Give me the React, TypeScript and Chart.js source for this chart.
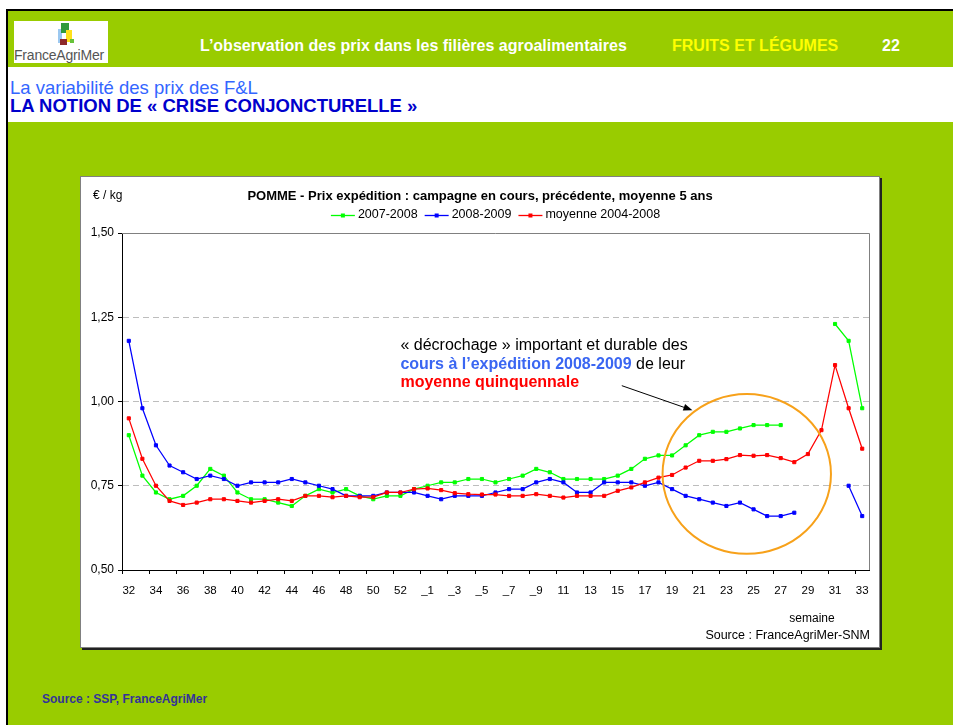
import React, { useEffect, useRef } from 'react';
import { Chart, registerables } from 'chart.js';

Chart.register(...registerables);

const FONT = '"Liberation Sans", Arial, sans-serif';

const weekLabels = [
  '32', '33', '34', '35', '36', '37', '38', '39', '40', '41', '42', '43', '44', '45', '46', '47', '48', '49', '50', '51', '52', '53',
  '_1', '_2', '_3', '_4', '_5', '_6', '_7', '_8', '_9',
  '10', '11', '12', '13', '14', '15', '16', '17', '18', '19', '20', '21', '22', '23', '24', '25', '26', '27', '28', '29', '30', '31', '32', '33',
];

const series2007 = [
  0.90, 0.78, 0.73, 0.71, 0.72, 0.75, 0.80, 0.78, 0.73, 0.71,
  0.71, 0.70, 0.69, 0.72, 0.74, 0.73, 0.74, 0.72, 0.71, 0.72,
  0.72, 0.74, 0.75, 0.76, 0.76, 0.77, 0.77, 0.76, 0.77, 0.78,
  0.80, 0.79, 0.77, 0.77, 0.77, 0.77, 0.78, 0.80, 0.83, 0.84,
  0.84, 0.87, 0.90, 0.91, 0.91, 0.92, 0.93, 0.93, 0.93, null,
  null, null, 1.23, 1.18, 0.98,
];

const series2008 = [
  1.18, 0.98, 0.87, 0.81, 0.79, 0.77, 0.78, 0.77, 0.75, 0.76,
  0.76, 0.76, 0.77, 0.76, 0.75, 0.74, 0.72, 0.72, 0.72, 0.73,
  0.73, 0.73, 0.72, 0.71, 0.72, 0.72, 0.72, 0.73, 0.74, 0.74,
  0.76, 0.77, 0.76, 0.73, 0.73, 0.76, 0.76, 0.76, 0.75, 0.76,
  0.74, 0.72, 0.71, 0.70, 0.69, 0.70, 0.68, 0.66, 0.66, 0.67,
  null, null, null, 0.75, 0.66,
];

const seriesMoyenne = [
  0.95, 0.83, 0.75, 0.705, 0.693, 0.70, 0.71, 0.71, 0.705, 0.70,
  0.705, 0.71, 0.705, 0.72, 0.72, 0.716, 0.72, 0.716, 0.716, 0.73,
  0.73, 0.74, 0.742, 0.737, 0.728, 0.725, 0.724, 0.724, 0.72, 0.72,
  0.725, 0.72, 0.715, 0.72, 0.72, 0.72, 0.735, 0.745, 0.76, 0.774,
  0.782, 0.804, 0.824, 0.824, 0.829, 0.841, 0.839, 0.841, 0.832, 0.82,
  0.844, 0.915, 1.108, 0.98, 0.86,
];

const seriesNames = ['2007-2008', '2008-2009', 'moyenne 2004-2008'];
const seriesColors = ['#00FF00', '#0000FF', '#FF0000'];

const yTicks = [0.5, 0.75, 1.0, 1.25, 1.5];

const chartTitle = 'POMME - Prix expédition : campagne en cours, précédente, moyenne 5 ans';

const overlayPlugin = {
  id: 'overlay',
  beforeDatasetsDraw(chart: any) {
    const { ctx, chartArea: a } = chart;
    ctx.save();
    ctx.strokeStyle = '#808080';
    ctx.lineWidth = 1;
    ctx.beginPath();
    ctx.moveTo(a.left, Math.round(a.top) + 0.5);
    ctx.lineTo(Math.round(a.right) + 0.5, Math.round(a.top) + 0.5);
    ctx.lineTo(Math.round(a.right) + 0.5, a.bottom);
    ctx.stroke();
    ctx.restore();
  },
  afterDatasetsDraw(chart: any) {
    const { ctx } = chart;
    const xs = chart.scales.x;
    const ys = chart.scales.y;
    // orange circle around the recent weeks
    const cx = xs.getPixelForValue(45.5);
    const cy = ys.getPixelForValue(0.785);
    const rx = xs.getPixelForValue(45.5 + 6.2) - cx;
    const ry = cy - ys.getPixelForValue(0.785 + 0.237);
    ctx.save();
    ctx.strokeStyle = '#F7A11A';
    ctx.lineWidth = 2;
    ctx.beginPath();
    ctx.ellipse(cx, cy, rx, ry, 0, 0, Math.PI * 2);
    ctx.stroke();
    // arrow
    const x1 = xs.getPixelForValue(36.3);
    const y1 = ys.getPixelForValue(1.047);
    const x2 = xs.getPixelForValue(41.5);
    const y2 = ys.getPixelForValue(0.974);
    const ang = Math.atan2(y2 - y1, x2 - x1);
    ctx.strokeStyle = '#000';
    ctx.fillStyle = '#000';
    ctx.lineWidth = 1;
    ctx.beginPath();
    ctx.moveTo(x1, y1);
    ctx.lineTo(x2 - 7 * Math.cos(ang), y2 - 7 * Math.sin(ang));
    ctx.stroke();
    ctx.beginPath();
    ctx.moveTo(x2, y2);
    ctx.lineTo(x2 - 9 * Math.cos(ang) + 3.5 * Math.sin(ang), y2 - 9 * Math.sin(ang) - 3.5 * Math.cos(ang));
    ctx.lineTo(x2 - 9 * Math.cos(ang) - 3.5 * Math.sin(ang), y2 - 9 * Math.sin(ang) + 3.5 * Math.cos(ang));
    ctx.closePath();
    ctx.fill();
    // annotation text
    const tx = xs.getPixelForValue(20);
    const ty = ys.getPixelForValue(1.165);
    const lh = 18.5;
    ctx.textBaseline = 'middle';
    ctx.textAlign = 'left';
    ctx.font = `16px ${FONT}`;
    ctx.fillStyle = '#000';
    ctx.fillText('« décrochage » important et durable des', tx, ty);
    ctx.font = `bold 16px ${FONT}`;
    ctx.fillStyle = '#3A66F2';
    const part = 'cours à l’expédition 2008-2009';
    ctx.fillText(part, tx, ty + lh);
    const w = ctx.measureText(part).width;
    ctx.font = `16px ${FONT}`;
    ctx.fillStyle = '#000';
    ctx.fillText(' de leur', tx + w, ty + lh);
    ctx.font = `bold 16px ${FONT}`;
    ctx.fillStyle = '#FF0000';
    ctx.fillText('moyenne quinquennale', tx, ty + 2 * lh);
    ctx.restore();
  },
  afterDraw(chart: any) {
    const { ctx, chartArea: a, width } = chart;
    ctx.save();
    ctx.textBaseline = 'middle';
    // unit
    ctx.fillStyle = '#000';
    ctx.font = `12px ${FONT}`;
    ctx.textAlign = 'left';
    ctx.fillText('€ / kg', 12, 19);
    // title
    ctx.font = `bold 13px ${FONT}`;
    ctx.textAlign = 'center';
    ctx.fillText(chartTitle, width / 2, 19);
    // legend
    ctx.font = `12.5px ${FONT}`;
    const symW = 24;
    const gapA = 3;
    const gapB = 7;
    const widths = seriesNames.map((n) => ctx.measureText(n).width);
    const total = widths.reduce((s, v) => s + v + symW + gapA, 0) + gapB * (seriesNames.length - 1);
    let lx = (a.left + a.right) / 2 - total / 2;
    const ly = 38;
    ctx.textAlign = 'left';
    seriesNames.forEach((n, i) => {
      ctx.strokeStyle = seriesColors[i];
      ctx.fillStyle = seriesColors[i];
      ctx.lineWidth = 1.3;
      ctx.beginPath();
      ctx.moveTo(lx, ly + 0.5);
      ctx.lineTo(lx + symW, ly + 0.5);
      ctx.stroke();
      ctx.fillRect(lx + symW / 2 - 2, ly - 1.5, 4, 4);
      ctx.fillStyle = '#000';
      ctx.fillText(n, lx + symW + gapA, ly);
      lx += symW + gapA + widths[i] + gapB;
    });
    // axis caption and source
    ctx.font = `12px ${FONT}`;
    ctx.textAlign = 'center';
    ctx.fillText('semaine', 731, 442);
    ctx.font = `12.5px ${FONT}`;
    ctx.textAlign = 'right';
    ctx.fillText('Source : FranceAgriMer-SNM', 789, 459);
    ctx.restore();
  },
};

function PriceChart() {
  const ref = useRef<HTMLCanvasElement | null>(null);
  useEffect(() => {
    if (!ref.current) return;
    const mk = (label: string, data: (number | null)[], color: string, order: number) => ({
      label,
      data,
      borderColor: color,
      backgroundColor: color,
      borderWidth: 1.25,
      pointStyle: 'rect',
      pointRadius: 2.2,
      pointBorderWidth: 1,
      pointBackgroundColor: color,
      pointBorderColor: color,
      tension: 0,
      spanGaps: false,
      order,
    });
    const chart = new Chart(ref.current, {
      type: 'line',
      data: {
        labels: weekLabels,
        datasets: [
          mk(seriesNames[0], series2007, seriesColors[0], 2),
          mk(seriesNames[1], series2008, seriesColors[1], 1),
          mk(seriesNames[2], seriesMoyenne, seriesColors[2], 0),
        ],
      },
      options: {
        animation: false,
        responsive: false,
        maintainAspectRatio: false,
        events: [],
        layout: { padding: { top: 56, right: 10, bottom: 0, left: 0 } },
        plugins: {
          legend: { display: false },
          title: { display: false },
          tooltip: { enabled: false },
        },
        scales: {
          x: {
            type: 'category',
            offset: true,
            grid: {
              drawOnChartArea: false,
              offset: true,
              tickLength: 4,
              color: '#000',
              tickColor: (c: any) => (c.index !== undefined && c.index % 2 === 0 ? '#000' : 'rgba(0,0,0,0)'),
            },
            border: { color: '#000', width: 1 },
            ticks: {
              autoSkip: false,
              maxRotation: 0,
              minRotation: 0,
              padding: 10,
              color: '#000',
              font: { family: FONT, size: 11.5 },
              callback: (_v: any, i: number) => (i % 2 === 0 ? weekLabels[i] : ''),
            },
            afterFit: (s: any) => {
              s.height = 77;
            },
          },
          y: {
            min: yTicks[0],
            max: yTicks[yTicks.length - 1],
            afterBuildTicks: (s: any) => {
              s.ticks = yTicks.map((v) => ({ value: v }));
            },
            ticks: {
              padding: 4,
              color: '#000',
              font: { family: FONT, size: 12 },
              callback: (v: any) => Number(v).toFixed(2).replace('.', ','),
            },
            grid: {
              color: (c: any) => (c.tick && (c.tick.value === 0.5 || c.tick.value === 1.5) ? 'rgba(0,0,0,0)' : '#BDBDBD'),
              tickColor: '#000',
              tickLength: 4,
              lineWidth: 1,
            },
            border: { color: '#000', width: 1, dash: [6, 4] },
            afterFit: (s: any) => {
              s.width = 41;
            },
          },
        },
      },
      plugins: [overlayPlugin],
    } as any);
    return () => chart.destroy();
  }, []);
  return <canvas ref={ref} width={798} height={470} style={{ display: 'block' }} />;
}

const abs = (o: React.CSSProperties): React.CSSProperties => ({ position: 'absolute', whiteSpace: 'nowrap', ...o });

export default function App() {
  return (
    <div style={{ position: 'relative', width: 953, height: 725, background: '#fff', overflow: 'hidden', fontFamily: FONT }}>
      <style>{'body{margin:0}'}</style>
      {/* frame */}
      <div style={abs({ left: 6, top: 9, width: 947, height: 2, background: '#000' })} />
      <div style={abs({ left: 6, top: 9, width: 2, height: 716, background: '#000' })} />
      <div style={abs({ left: 8, top: 11, width: 945, height: 56, background: '#99CC00' })} />
      <div style={abs({ left: 8, top: 67, width: 945, height: 55, background: '#fff' })} />
      <div style={abs({ left: 8, top: 122, width: 945, height: 603, background: '#99CC00' })} />
      {/* logo */}
      <div style={abs({ left: 14, top: 21, width: 94, height: 42, background: '#fff' })}>
        <div style={abs({ left: 44, top: 8, width: 4, height: 14, background: '#9CC8F0' })} />
        <div style={abs({ left: 47, top: 2, width: 8, height: 10, background: '#2E9A3C' })} />
        <div style={abs({ left: 52, top: 9, width: 6, height: 12, background: '#FFE11A' })} />
        <div style={abs({ left: 46, top: 18, width: 7, height: 6, background: '#8E2A2A' })} />
        <div style={abs({ left: 56, top: 18, width: 4, height: 4, background: '#67C23A' })} />
        <div style={abs({ left: 0, top: 26, fontSize: 14, lineHeight: '16px', color: '#555', letterSpacing: -0.2 })}>FranceAgriMer</div>
      </div>
      {/* header */}
      <div style={abs({ left: 200, top: 37, fontSize: 16, lineHeight: '18px', fontWeight: 'bold', color: '#fff' })}>
        L’observation des prix dans les filières agroalimentaires
      </div>
      <div style={abs({ left: 672, top: 37, fontSize: 16, lineHeight: '18px', fontWeight: 'bold', color: '#FFFF00' })}>
        FRUITS ET LÉGUMES
      </div>
      <div style={abs({ left: 882, top: 37, fontSize: 16, lineHeight: '18px', fontWeight: 'bold', color: '#fff' })}>22</div>
      {/* subtitle */}
      <div style={abs({ left: 10, top: 78, fontSize: 18.5, lineHeight: '20px', color: '#3366FF' })}>
        La variabilité des prix des F&amp;L
      </div>
      <div style={abs({ left: 10, top: 96, fontSize: 18.5, lineHeight: '20px', fontWeight: 'bold', color: '#0000CC' })}>
        LA NOTION DE « CRISE CONJONCTURELLE »
      </div>
      {/* chart box */}
      <div
        style={abs({
          left: 80,
          top: 176,
          width: 800,
          height: 472,
          boxSizing: 'border-box',
          border: '1px solid #808080',
          background: '#fff',
          boxShadow: '2px 2px 0 #222',
        })}
      >
        <PriceChart />
      </div>
      {/* footer */}
      <div style={abs({ left: 42, top: 692, fontSize: 12, lineHeight: '14px', fontWeight: 'bold', color: '#333399' })}>
        Source : SSP, FranceAgriMer
      </div>
    </div>
  );
}
